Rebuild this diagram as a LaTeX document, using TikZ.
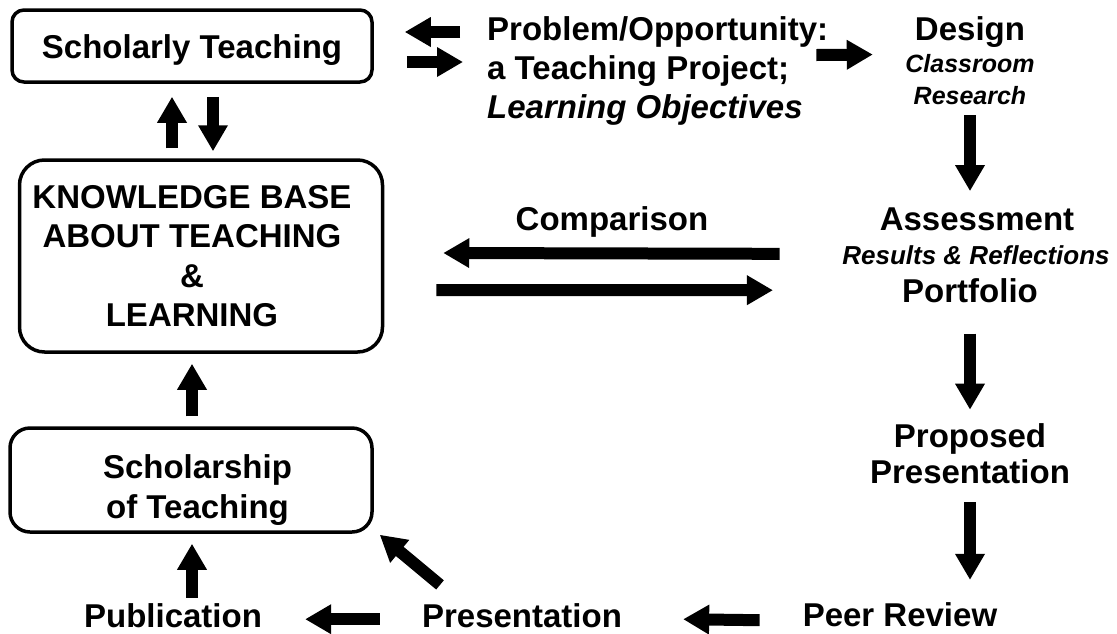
\documentclass[tikz,border=0pt]{standalone}
\usepackage{fontspec}
\setmainfont{Liberation Sans}
\usetikzlibrary{arrows.meta}
\tikzset{
 box/.style={draw,line width=3.5pt,align=center,inner sep=0pt,
   font=\bfseries\fontsize{33}{39.5}\selectfont},
 txt/.style={inner sep=0pt,font=\bfseries\fontsize{33}{39}\selectfont},
 small/.style={inner sep=0pt,font=\bfseries\itshape\fontsize{25}{32}\selectfont},
 blk/.style={line width=12pt,-{Triangle[length=26pt,width=28pt]}}
}
\begin{document}
\begin{tikzpicture}[x=1pt,y=-1pt]
 \useasboundingbox (0,0) rectangle (1117,633);
 % boxes on the left
 \node[box,rounded corners=12pt,minimum width=360pt,minimum height=72pt] (st) at (192,46) {\rule{0pt}{31pt}Scholarly Teaching};
 \node[box,rounded corners=25pt,minimum width=363pt,minimum height=192pt] (kb) at (201,256)
   {\hspace*{-18pt}KNOWLEDGE BASE\\\hspace*{-18pt}ABOUT TEACHING\\\hspace*{-18pt}\&\\\hspace*{-18pt}LEARNING};
 \node[box,rounded corners=20pt,minimum width=362pt,minimum height=104pt] (sot) at (191,480)
   {\hspace*{13pt}\rule{0pt}{44pt}Scholarship\\\hspace*{13pt}of Teaching};
 % texts
 \node[txt,align=left,anchor=west] (prob) at (487,71) {Problem/Opportunity:\\a Teaching Project;\\\textit{Learning Objectives}};
 \node[txt,anchor=base] (design) at (970,40) {Design};
 \node[small,align=center] (dres) at (970,80) {Classroom\\Research};
 \node[txt,anchor=base] (comp) at (612,230) {Comparison};
 \node[txt,anchor=base] (assess) at (977,230) {Assessment};
 \node[small,anchor=base,font=\bfseries\itshape\fontsize{26}{32}\selectfont] (ares) at (976,264) {Results \& Reflections};
 \node[txt,anchor=base] (portf) at (970,302) {Portfolio};
 \node[txt,align=center,font=\bfseries\fontsize{33}{36}\selectfont] (propo) at (970,454) {Proposed\\Presentation};
 \node[txt,anchor=base] (peer) at (900,626) {Peer Review};
 \node[txt,anchor=base] (pres) at (522,627) {Presentation};
 \node[txt,anchor=base] (publ) at (173,627) {Publication};
 % block arrows
 \draw[blk] ([shift={(-27,-39)}]prob.west) -- ([shift={(31,-14)}]st.east);
 \draw[blk] ([shift={(33,16)}]st.east) -- ([shift={(-24,-9)}]prob.west);
 \draw[blk] ([shift={(-12,-16)}]prob.east) -- ([shift={(-42,23)}]design.west);
 \draw[blk] ([shift={(-29,-10)}]kb.north) -- ([shift={(-20,13)}]st.south);
 \draw[blk] ([shift={(21,13)}]st.south) -- ([shift={(12,-7)}]kb.north);
 \draw[blk] ([shift={(0,10)}]dres.south) -- ([shift={(-7,-16)}]assess.north);
 \draw[blk] ([shift={(-100,35)}]assess.west) -- ([shift={(59,-3)}]kb.east);
 \draw[blk] ([shift={(52,34)}]kb.east) -- ([shift={(-129,0)}]portf.west);
 \draw[blk] ([shift={(0,31)}]portf.south) -- ([shift={(0,-14)}]propo.north);
 \draw[blk] ([shift={(0,18)}]propo.south) -- ([shift={(70,-22)}]peer.north);
 \draw[blk] ([shift={(-43,6)}]peer.west) -- ([shift={(61,4)}]pres.east);
 \draw[blk] ([shift={(-42,4)}]pres.west) -- ([shift={(43,4)}]publ.east);
 \draw[blk] ([shift={(19,-5)}]publ.north) -- ([shift={(1,10)}]sot.south);
 \draw[blk] ([shift={(-82,-18)}]pres.north) -- ([shift={(6,1)}]sot.south east);
 \draw[blk] ([shift={(1,-10)}]sot.north) -- ([shift={(-9,10)}]kb.south);
\end{tikzpicture}
\end{document}
